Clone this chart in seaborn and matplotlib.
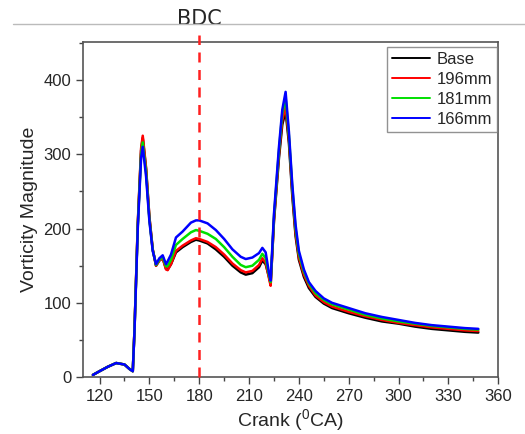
# ============================================================
# IMPORT LIBRARIES
# ============================================================

import numpy as np
import pandas as pd
import matplotlib
matplotlib.use("Agg")
import matplotlib.pyplot as plt
from matplotlib.lines import Line2D
from matplotlib.ticker import MultipleLocator
import seaborn as sns

# ============================================================
# DATA
# ============================================================

crank = [116, 120, 125, 130, 135, 138, 140, 141, 143, 145, 146, 148, 150,
         152, 154, 156, 158, 160, 161, 163, 166, 170, 175, 178, 180, 185,
         190, 195, 200, 205, 208, 212, 216, 218, 220, 222, 223, 225, 228,
         230, 232, 234, 236, 238, 240, 243, 246, 250, 255, 260, 270, 280,
         290, 300, 310, 320, 330, 340, 348]

base = [3, 8, 14, 19, 17, 11, 8, 62, 205, 305, 322, 280, 215,
        172, 150, 157, 160, 146, 145, 152, 168, 175, 182, 185, 184, 180,
        172, 162, 150, 141, 138, 140, 148, 157, 152, 135, 125, 210, 295,
        340, 358, 315, 245, 190, 158, 135, 120, 108, 99, 93, 86, 80,
        75, 72, 68, 65, 63, 61, 60]

mm196 = [3, 8, 14, 19, 17, 11, 8, 62, 207, 308, 325, 282, 216,
         172, 150, 157, 160, 145, 144, 152, 170, 177, 184, 187, 186, 182,
         175, 165, 153, 144, 141, 143, 151, 160, 154, 133, 123, 212, 300,
         346, 364, 320, 250, 194, 161, 138, 123, 110, 101, 95, 88, 82,
         77, 73, 70, 67, 65, 63, 62]

mm181 = [3, 8, 14, 19, 17, 11, 8, 61, 203, 300, 316, 276, 212,
         171, 151, 158, 162, 149, 150, 158, 178, 186, 195, 198, 197, 193,
         186, 175, 162, 151, 148, 150, 158, 166, 160, 137, 128, 216, 305,
         355, 376, 325, 256, 200, 166, 142, 126, 113, 104, 98, 91, 84,
         79, 75, 72, 69, 67, 65, 64]

mm166 = [3, 8, 14, 19, 17, 11, 8, 60, 200, 295, 310, 270, 210,
         170, 152, 160, 164, 152, 156, 165, 188, 196, 208, 211, 211, 207,
         198, 186, 172, 162, 159, 161, 167, 174, 168, 140, 130, 220, 310,
         360, 384, 330, 260, 205, 170, 145, 128, 116, 106, 100, 93, 86,
         81, 77, 73, 70, 68, 66, 65]

series_names = ["Base", "196mm", "181mm", "166mm"]
series_colors = ["#000000", "#ff0000", "#00e000", "#0000ff"]

x_ticks = [120, 150, 180, 210, 240, 270, 300, 330, 360]
y_ticks = [0, 100, 200, 300, 400]

# ============================================================
# LONG FORM TABLE
# ============================================================

frames = []
for name, vals in zip(series_names, [base, mm196, mm181, mm166]):
    frames.append(pd.DataFrame({"crank": crank, "vort": vals, "case": name}))
df = pd.concat(frames, ignore_index=True)

# ============================================================
# STYLE
# ============================================================

sns.set_style("white")
plt.rcParams["font.family"] = ["Liberation Sans", "DejaVu Sans"]
plt.rcParams["mathtext.fontset"] = "custom"
plt.rcParams["mathtext.rm"] = "Liberation Sans"
plt.rcParams["mathtext.it"] = "Liberation Sans"

# ============================================================
# PLOT
# ============================================================

fig = plt.figure(figsize=(5.25, 4.34), dpi=100)
ax = fig.add_axes([0.158, 0.131, 0.791, 0.772])

sns.lineplot(
    data=df,
    x="crank",
    y="vort",
    hue="case",
    hue_order=series_names,
    palette=series_colors,
    estimator=None,
    sort=False,
    linewidth=1.8,
    ax=ax
)

# BDC marker
ax.axvline(180, ymin=0, ymax=1.02, color="#ff2020", linestyle=(0, (4, 3)),
           linewidth=1.8, clip_on=False, zorder=5)
ax.text(180, 1.07, "BDC", transform=ax.get_xaxis_transform(),
        ha="center", va="center", fontsize=15, family="DejaVu Sans")

ax.set_xlim(110, 360)
ax.set_ylim(0, 451)
ax.set_xticks(x_ticks)
ax.set_yticks(y_ticks)
ax.xaxis.set_minor_locator(MultipleLocator(15))
ax.yaxis.set_minor_locator(MultipleLocator(50))
ax.tick_params(axis="both", which="major", direction="out", length=5,
               width=1, color="#444444", labelsize=12, bottom=True, left=True)
ax.tick_params(axis="both", which="minor", direction="out", length=3,
               width=1, color="#444444", bottom=True, left=True)

for sp in ax.spines.values():
    sp.set_color("#555555")
    sp.set_linewidth(1.2)

ax.set_xlabel("Crank ($^{0}$CA)", fontsize=14, labelpad=2)
ax.set_ylabel("Vorticity Magnitude", fontsize=14, labelpad=4)

leg = ax.legend(loc="upper right", bbox_to_anchor=(0.998, 0.985),
                fontsize=12, frameon=True, fancybox=False,
                edgecolor="#777777", handlelength=2.3, handletextpad=0.4,
                borderpad=0.3, labelspacing=0.3, borderaxespad=0.0)
leg.get_frame().set_linewidth(1.0)
for h in leg.get_lines():
    h.set_linewidth(1.4)

# thin grey rule across the top of the figure
fig.add_artist(Line2D([0.025, 1.0], [0.945, 0.945], color="#bbbbbb",
                      linewidth=1.0))

fig.savefig("out.png", dpi=100)
